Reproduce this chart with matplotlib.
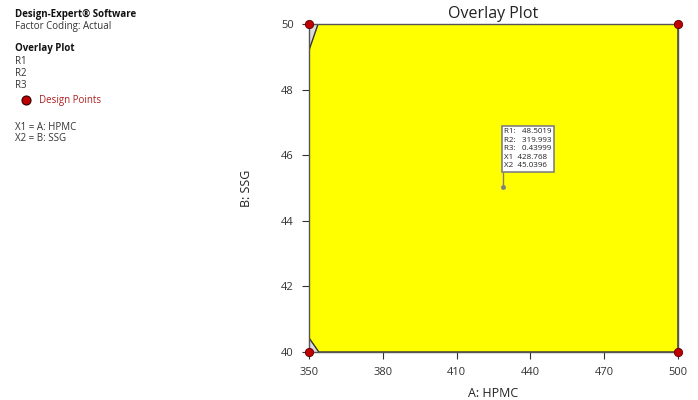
import matplotlib
matplotlib.use("Agg")
import matplotlib.pyplot as plt

plt.rcParams['font.family'] = ['Open Sans', 'DejaVu Sans']

# Factor ranges
hpmc_range = [350, 500]
ssg_range = [40, 50]
x_ticks = [350, 380, 410, 440, 470, 500]
y_ticks = [40, 42, 44, 46, 48, 50]

# Boundary of the region that satisfies all response criteria
region_hpmc = [353.7, 500, 500, 354.0, 350, 350]
region_ssg = [50, 50, 40, 40, 40.43, 49.2]

# Design points (factorial corners)
design_hpmc = [350, 500, 350, 500]
design_ssg = [40, 40, 50, 50]

# Flagged optimum
flag_hpmc = 428.768
flag_ssg = 45.0396
flag_r1 = 48.5019
flag_r2 = 319.993
flag_r3 = 0.43999

fig = plt.figure(figsize=(6.98, 4.0), dpi=100)
ax = fig.add_axes([309/698, 48/400, 369/698, 328/400])
ax.set_facecolor('#dcdcdc')

ax.fill(region_hpmc, region_ssg, facecolor='#ffff00', edgecolor='#333333', linewidth=1.0, zorder=1)

ax.scatter(design_hpmc, design_ssg, s=36, c='#c00000', edgecolors='#600000',
           linewidths=0.6, zorder=5, clip_on=False)

# Flag
flag_base = 45.45
ax.plot([flag_hpmc], [flag_ssg], marker='o', ms=2.5, color='#808080', zorder=4)
ax.plot([flag_hpmc, flag_hpmc], [flag_ssg, flag_base], color='#808080', lw=1, zorder=4)
flag_text = (f"R1:   {flag_r1}\nR2:   {flag_r2}\nR3:   {flag_r3}\n"
             f"X1  {flag_hpmc}\nX2  {flag_ssg}")
ax.text(flag_hpmc + 0.6, flag_base + 0.12, flag_text, fontsize=5.8, va='bottom', ha='left',
        linespacing=1.3, color='#222222', zorder=6,
        bbox=dict(boxstyle='square,pad=0.3', facecolor='white', edgecolor='#808080', lw=1.2))

ax.set_xlim(hpmc_range)
ax.set_ylim(ssg_range)
ax.set_xticks(x_ticks)
ax.set_yticks(y_ticks)
ax.tick_params(labelsize=8, colors='#333333', length=5, direction='out', pad=6)
for s in ax.spines.values():
    s.set_color('#555555')
    s.set_linewidth(1)

ax.set_title('Overlay Plot', fontsize=11.5, color='#222222', pad=4)
ax.set_xlabel('A: HPMC', fontsize=9, color='#222222', labelpad=6)
ax.set_ylabel('B: SSG', fontsize=9, color='#222222', labelpad=20)

# Side panel
tx = 15/698
def ypos(py):
    return 1 - py/400

fig.text(tx, ypos(14), 'Design-Expert® Software', fontsize=7, fontweight='bold', va='center', color='#111111')
fig.text(tx, ypos(26), 'Factor Coding: Actual', fontsize=7, va='center', color='#333333')
fig.text(tx, ypos(49), 'Overlay Plot', fontsize=7, fontweight='bold', va='center', color='#111111')
fig.text(tx, ypos(61), 'R1', fontsize=7, va='center', color='#333333')
fig.text(tx, ypos(73), 'R2', fontsize=7, va='center', color='#333333')
fig.text(tx, ypos(85), 'R3', fontsize=7, va='center', color='#333333')
fig.add_artist(matplotlib.lines.Line2D([26/698], [ypos(100)], marker='o', ms=6.5,
               color='#c00000', markeredgecolor='#300000', markeredgewidth=0.8))
fig.text(39/698, ypos(100), 'Design Points', fontsize=7, va='center', color='#b02020')
fig.text(tx, ypos(127), 'X1 = A: HPMC', fontsize=7, va='center', color='#333333')
fig.text(tx, ypos(139), 'X2 = B: SSG', fontsize=7, va='center', color='#333333')

fig.savefig('out.png', dpi=100)
